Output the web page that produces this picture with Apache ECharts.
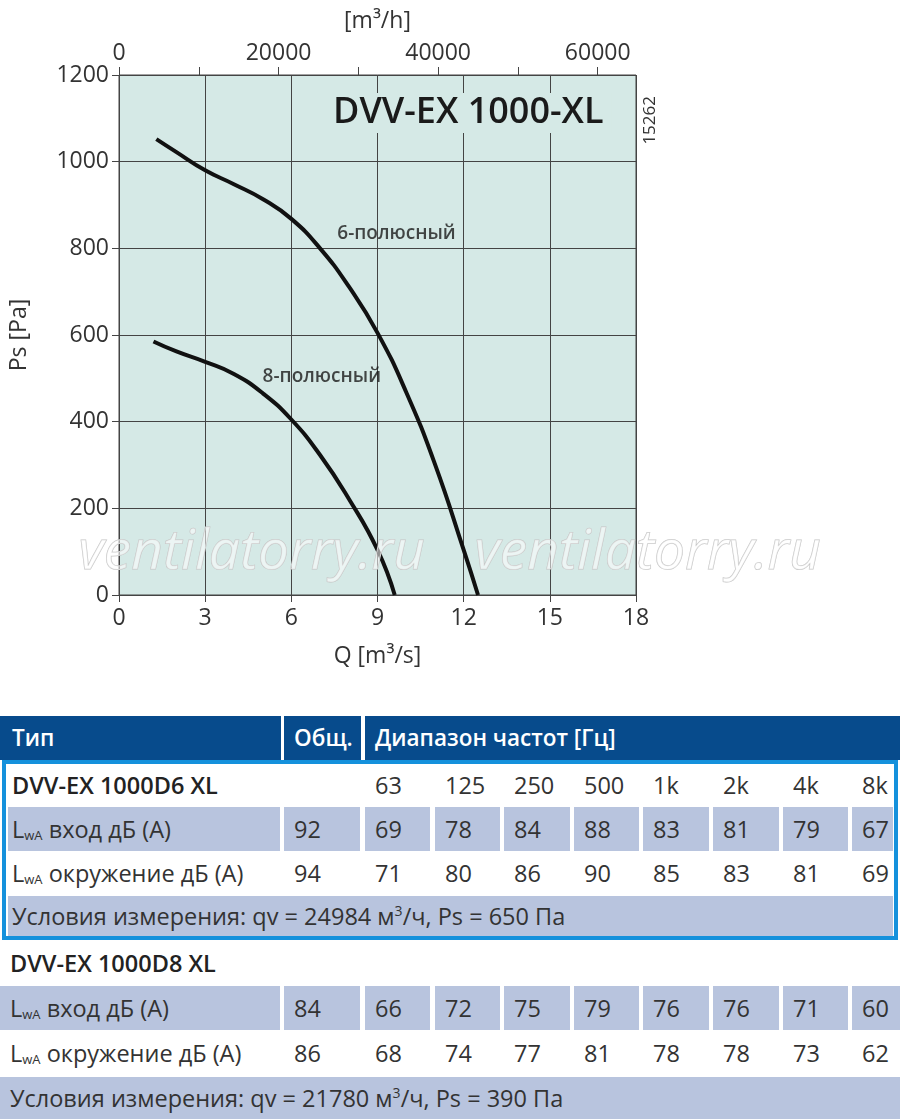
<!DOCTYPE html>
<html>
<head>
<meta charset="utf-8">
<script src="https://cdn.jsdelivr.net/npm/echarts@6/dist/echarts.min.js"></script>
<style>
  body { margin: 0; background: #fff; font-family: "Open Sans", "Noto Sans", sans-serif; }
  #page { position: relative; width: 900px; height: 1119px; overflow: hidden; }
  #chart { position: absolute; left: 0; top: 0; width: 900px; height: 700px; }
  .c { position: absolute; box-sizing: border-box; font-size: 23.5px; color: #333; padding-left: 10px; white-space: nowrap; }
  .sh { background: #b8c4de; }
  .hd { background: #074b8c; color: #fff; font-weight: 600; font-size: 22.5px; }
  .b { font-weight: 600; color: #222; }
  .c sub { font-size: 13px; vertical-align: -2px; line-height: 0; }
  .c sup { font-size: 14px; vertical-align: 9px; line-height: 0; }
</style>
</head>
<body>
<div id="page">
  <div id="chart"></div>
  <div id="table"></div>
</div>
<script>
// кривые вентилятора, Q [m3/s] / Ps [Pa]
var pole6 = [[1.3, 1052], [2, 1022], [3, 980], [4, 948], [5, 914], [6, 868], [7, 800], [8, 712], [9, 605], [10, 468], [11, 302], [12, 104], [12.5, 0]];
var pole8 = [[1.2, 585], [2, 562], [3, 538], [4, 510], [5, 466], [6, 405], [7, 323], [8, 222], [9, 104], [9.6, 0]];
var curveLabels = [{ value: [7.6, 833], name: '6-полюсный' }, { value: [5.0, 503], name: '8-полюсный' }];

// таблица шума
var freqs = ['63', '125', '250', '500', '1k', '2k', '4k', '8k'];
var d6Total = [92, 94];
var d6In = [69, 78, 84, 88, 83, 81, 79, 67];
var d6Env = [71, 80, 86, 90, 85, 83, 81, 69];
var d8Total = [84, 86];
var d8In = [66, 72, 75, 79, 76, 76, 71, 60];
var d8Env = [68, 74, 77, 81, 78, 78, 73, 62];
var d6Cond = 'Условия измерения: qv = 24984 м<sup>3</sup>/ч, Ps = 650 Па';
var d8Cond = 'Условия измерения: qv = 21780 м<sup>3</sup>/ч, Ps = 390 Па';

var axisFont = { fontSize: 23, color: '#333', fontFamily: 'Open Sans' };
var plain = function (v) { return String(v); };
var myChart = echarts.init(document.getElementById('chart'));
var option = {
    animation: false,
    textStyle: { fontFamily: 'Open Sans' },
    title: {
        text: 'DVV-EX 1000-XL',
        left: 325, top: 93,
        backgroundColor: '#d5e9e6',
        padding: [2, 8, 2, 8],
        textStyle: { fontSize: 36, fontWeight: 600, color: '#1a1a1a', fontFamily: 'Open Sans' }
    },
    grid: { left: 118, top: 75, width: 518, height: 520, show: true, backgroundColor: '#d5e9e6', borderColor: '#444', borderWidth: 1 },
    xAxis: [{
        type: 'value', min: 0, max: 18, interval: 3, position: 'bottom',
        name: 'Q [m³/s]', nameLocation: 'middle', nameGap: 50, nameTextStyle: axisFont,
        axisLine: { lineStyle: { color: '#444' } },
        axisTick: { show: true, length: 7, lineStyle: { color: '#444' } },
        axisLabel: Object.assign({ margin: 12, formatter: plain }, axisFont),
        splitLine: { lineStyle: { color: '#444', width: 1 } }
    }, {
        type: 'value', min: 0, max: 64800, interval: 10000, position: 'top',
        name: '[m³/h]', nameLocation: 'middle', nameGap: 42, nameTextStyle: axisFont,
        axisLine: { lineStyle: { color: '#444' } },
        axisTick: { show: true, length: 8, lineStyle: { color: '#444' } },
        axisLabel: Object.assign({ margin: 10, showMaxLabel: false, formatter: function (v) { return v % 20000 === 0 ? String(v) : ''; } }, axisFont),
        splitLine: { show: false }
    }],
    yAxis: {
        type: 'value', min: 0, max: 1200, interval: 200,
        name: 'Ps [Pa]', nameLocation: 'middle', nameGap: 88, nameTextStyle: axisFont,
        axisLine: { show: true, lineStyle: { color: '#444' } },
        axisTick: { show: true, length: 7, lineStyle: { color: '#444' } },
        axisLabel: Object.assign({ margin: 10, formatter: plain }, axisFont),
        splitLine: { lineStyle: { color: '#444', width: 1 } }
    },
    graphic: [
        { type: 'text', left: 642, top: 96, rotation: Math.PI / 2, style: { text: '15262', fontSize: 17, fill: '#333', fontFamily: 'Open Sans' } },
        { type: 'text', left: 78, top: 525, z: 100, style: { text: 'ventilatorry.ru', fontSize: 55, fontStyle: 'italic', fill: 'rgba(255,255,255,0.55)', stroke: '#c4c4c4', lineWidth: 1, fontFamily: 'Open Sans' } },
        { type: 'text', left: 474, top: 525, z: 100, style: { text: 'ventilatorry.ru', fontSize: 55, fontStyle: 'italic', fill: 'rgba(255,255,255,0.55)', stroke: '#c4c4c4', lineWidth: 1, fontFamily: 'Open Sans' } }
    ],
    series: [{
        name: '6-полюсный', type: 'line', data: pole6, smooth: 0.5, showSymbol: false,
        lineStyle: { color: '#111', width: 4 }
    }, {
        name: '8-полюсный', type: 'line', data: pole8, smooth: 0.5, showSymbol: false,
        lineStyle: { color: '#111', width: 4 }
    }, {
        type: 'scatter', data: curveLabels, symbolSize: 0,
        label: { show: true, position: 'right', distance: 0, formatter: '{b}', fontSize: 19, fontWeight: 600, color: '#1a1a1a', fontFamily: 'Open Sans' }
    }]
};
myChart.setOption(option);

// таблица
var colX = [284, 365, 435, 504, 574, 643, 713, 783, 852];
var colR = [360, 430, 500, 570, 639, 709, 779, 848, 893];
var html = '';
function cell(x, y, w, h, cls, txt, pad) {
    html += '<div class="c ' + cls + '" style="left:' + x + 'px;top:' + y + 'px;width:' + w + 'px;height:' + h + 'px;line-height:' + h + 'px' +
        (pad !== undefined ? ';padding-left:' + pad + 'px' : '') + '">' + txt + '</div>';
}
function lwa(word) { return 'L<sub>wA</sub> ' + word + ' дБ (А)'; }
function valueRow(y, h, shaded, label, total, vals, x0, lastR, pad) {
    var cls = shaded ? 'sh' : '';
    cell(x0, y, 280 - x0, h, cls, label, pad);
    cell(colX[0], y, colR[0] - colX[0], h, cls, total);
    for (var i = 0; i < vals.length; i++) {
        var r = (i === vals.length - 1) ? lastR : colR[i + 1];
        cell(colX[i + 1], y, r - colX[i + 1], h, cls, vals[i]);
    }
}
// шапка
cell(0, 716, 281, 44, 'hd', 'Тип', 12);
cell(284, 716, 77, 44, 'hd', 'Общ.');
cell(365, 716, 535, 44, 'hd', 'Диапазон частот [Гц]');
// D6
html += '<div style="position:absolute;left:2px;top:760px;width:896px;height:180px;box-sizing:border-box;border:4px solid #1591dc"></div>';
cell(8, 764, 270, 42, 'b', 'DVV-EX 1000D6 XL', 4);
for (var i = 0; i < freqs.length; i++) cell(colX[i + 1], 764, 66, 42, '', freqs[i]);
valueRow(807, 44, true, lwa('вход'), d6Total[0], d6In, 8, 893, 4);
valueRow(852, 43, false, lwa('окружение'), d6Total[1], d6Env, 8, 893, 4);
cell(8, 896, 885, 40, 'sh', d6Cond, 4);
// D8
cell(0, 941, 280, 44, 'b', 'DVV-EX 1000D8 XL');
valueRow(986, 44, true, lwa('вход'), d8Total[0], d8In, 0, 900);
valueRow(1031, 44, false, lwa('окружение'), d8Total[1], d8Env, 0, 900);
cell(0, 1077, 900, 42, 'sh', d8Cond);
document.getElementById('table').innerHTML = html;
</script>
</body>
</html>
